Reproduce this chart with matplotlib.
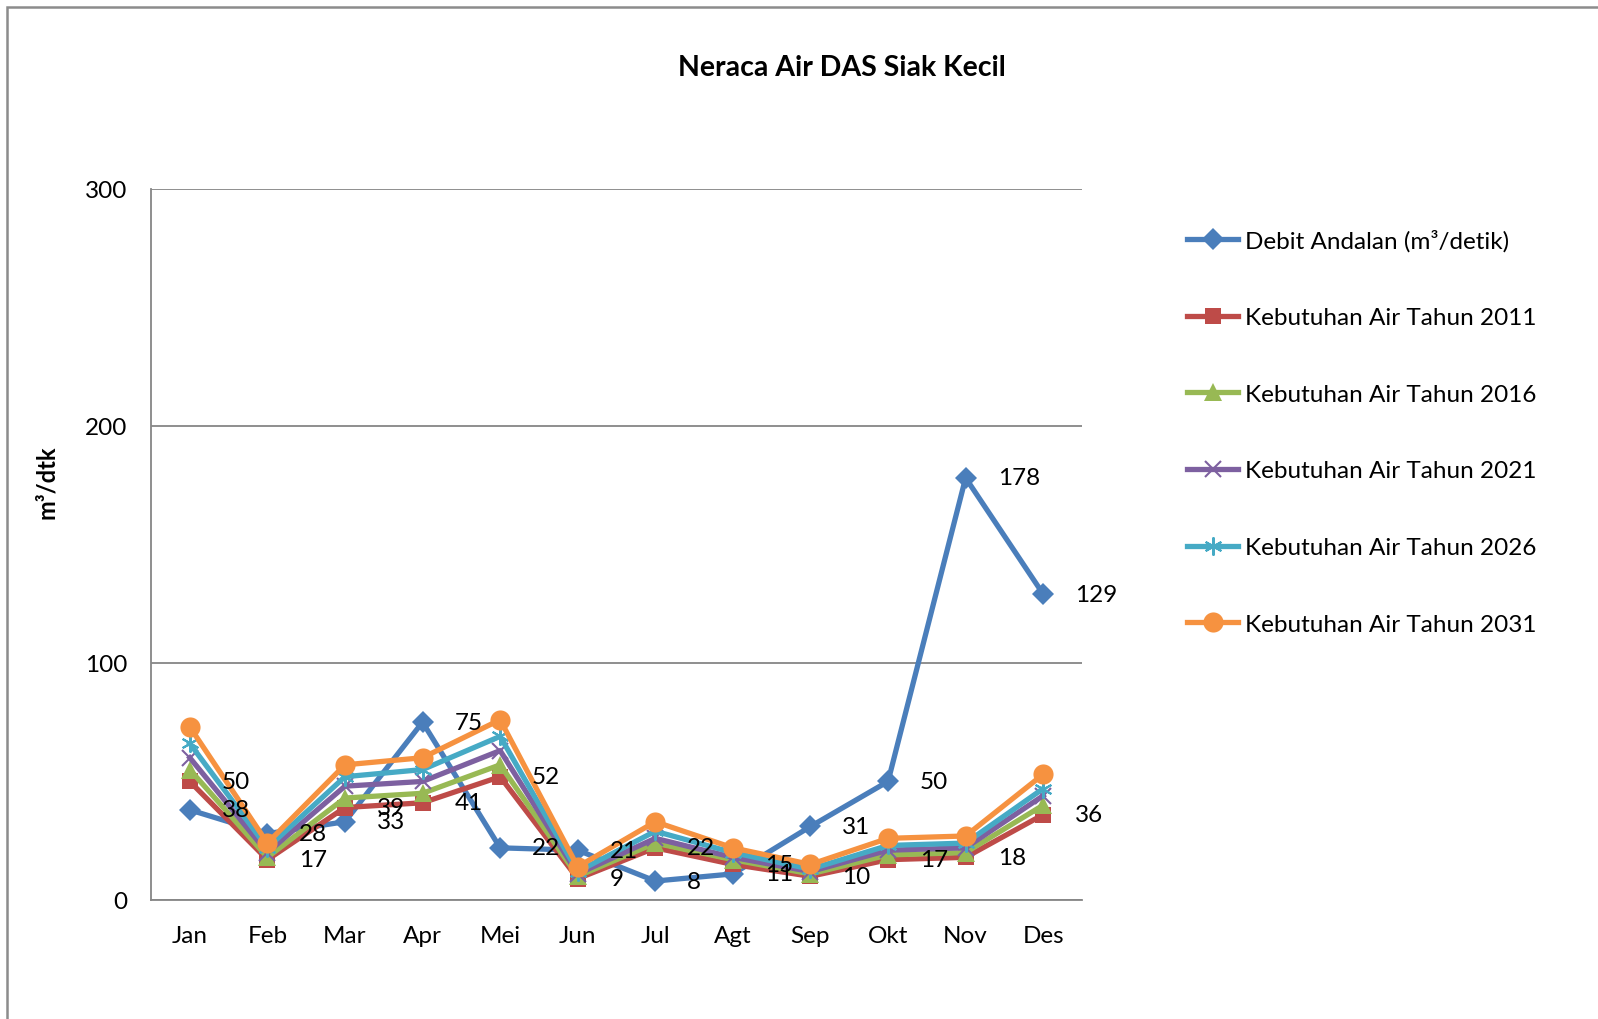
import matplotlib
matplotlib.use("Agg")
import matplotlib.pyplot as plt
from matplotlib.patches import Rectangle

plt.rcParams['font.family'] = ['Lato', 'DejaVu Sans']

# data
months = ['Jan', 'Feb', 'Mar', 'Apr', 'Mei', 'Jun', 'Jul', 'Agt', 'Sep', 'Okt', 'Nov', 'Des']
debit = [38, 28, 33, 75, 22, 21, 8, 11, 31, 50, 178, 129]
keb_2011 = [50, 17, 39, 41, 52, 9, 22, 15, 10, 17, 18, 36]
keb_2016 = [55, 18, 43, 45, 57, 10, 24, 17, 11, 19, 20, 40]
keb_2021 = [60, 20, 48, 50, 63, 11, 26, 18, 12, 21, 22, 44]
keb_2026 = [66, 22, 52, 55, 69, 12, 29, 20, 13, 23, 24, 47]
keb_2031 = [73, 24, 57, 60, 76, 14, 33, 22, 15, 26, 27, 53]

labels = ['Debit Andalan (m³/detik)', 'Kebutuhan Air Tahun 2011', 'Kebutuhan Air Tahun 2016',
          'Kebutuhan Air Tahun 2021', 'Kebutuhan Air Tahun 2026', 'Kebutuhan Air Tahun 2031']

series = [debit, keb_2011, keb_2016, keb_2021, keb_2026, keb_2031]
colors = ['#4A7EBB', '#BE4B48', '#98B954', '#7D60A0', '#46AAC5', '#F69240']
markers = ['D', 's', '^', 'x', '*', 'o']
msizes = [11.5, 12, 13, 12, 13, 14.5]

W, H = 1598, 1020
fs = 17.5
fig = plt.figure(figsize=(W / 100, H / 100), dpi=100)
ax = fig.add_axes([151 / W, 1 - 901 / H, (1082 - 151) / W, (901 - 189.6) / H])

x = list(range(len(months)))
for vals, c, m, ms, lab in zip(series, colors, markers, msizes, labels):
	kw = dict(markeredgewidth=1.5) if m in ('x', '*') else dict(markeredgewidth=0)
	if m == '*':
		m = (6, 2, 0)
	ax.plot(x, vals, color=c, lw=3.8, marker=m, ms=ms, label=lab, **kw)

# data labels for first two series
for vals in (debit, keb_2011):
	for xi, v in zip(x, vals):
		ax.annotate(str(v), (xi, v), xytext=(23, 0), textcoords='offset points',
			ha='left', va='center', fontsize=fs)

ax.set_xlim(-0.5, 11.5)
ax.set_ylim(0, 300)
ax.set_yticks([0, 100, 200, 300])
ax.set_xticks(x)
ax.set_xticklabels(months)
ax.tick_params(length=0, labelsize=fs)
ax.tick_params(axis='y', pad=17)
ax.tick_params(axis='x', pad=18)
ax.grid(axis='y', color='#868686', lw=1.3)
ax.set_axisbelow(True)
for s in ('top', 'right'):
	ax.spines[s].set_visible(False)
for s in ('left', 'bottom'):
	ax.spines[s].set_color('#868686')
	ax.spines[s].set_linewidth(1.3)

fig.text(842 / W, 1 - 68 / H, 'Neraca Air DAS Siak Kecil', ha='center', va='center',
	fontsize=20.5, fontweight='bold')
fig.text(46 / W, 1 - 482 / H, 'm³/dtk', rotation=90, ha='center', va='center',
	fontsize=17, fontweight='bold')

ax.legend(loc='upper left', bbox_to_anchor=(1187 / W, 1 - 230 / H), bbox_transform=fig.transFigure,
	frameon=False, fontsize=fs, handlelength=2.1, handletextpad=0.3, labelspacing=2.29,
	borderpad=0, borderaxespad=0)

fig.patches.append(Rectangle((7 / W, -0.05), 1.1, 1 - 8 / H + 0.05, transform=fig.transFigure,
	fill=False, edgecolor='#8C8C8C', lw=1.8))

fig.savefig('out.png', dpi=100)
